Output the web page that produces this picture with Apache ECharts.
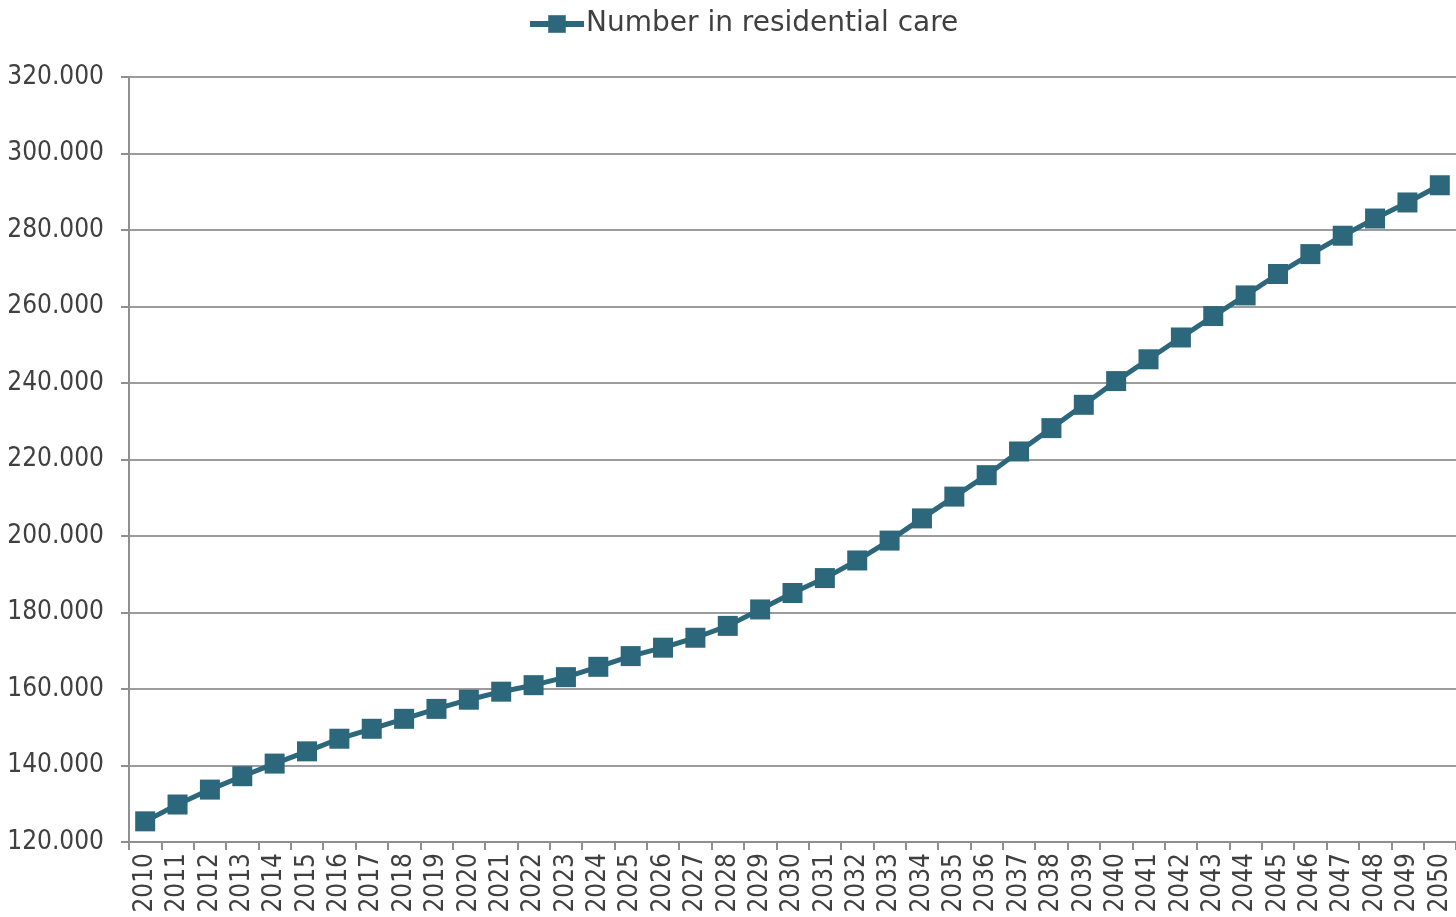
<!DOCTYPE html>
<html>
<head>
<meta charset="utf-8">
<title>Number in residential care</title>
<script src="https://cdn.jsdelivr.net/npm/echarts@6/dist/echarts.min.js"></script>
<style>
  html, body { margin: 0; padding: 0; background: #ffffff; }
  #chart { width: 1456px; height: 917px; }
</style>
</head>
<body>
<div id="chart"></div>
<script>
// Projected number of people in residential care, 2010-2050
const years = [
  '2010','2011','2012','2013','2014','2015','2016','2017','2018','2019',
  '2020','2021','2022','2023','2024','2025','2026','2027','2028','2029',
  '2030','2031','2032','2033','2034','2035','2036','2037','2038','2039',
  '2040','2041','2042','2043','2044','2045','2046','2047','2048','2049','2050'
];
const residentialCare = [
  125400, 129800, 133700, 137200, 140500, 143700, 147000, 149600, 152200, 154800,
  157200, 159300, 161000, 163100, 165800, 168600, 170800, 173400, 176500, 180800,
  185100, 189000, 193600, 198800, 204600, 210300, 215900, 222100, 228200, 234300,
  240500, 246200, 251900, 257500, 262900, 268500, 273700, 278500, 283000, 287200, 291700
];
const seriesName = 'Number in residential care';
const yMin = 120000, yMax = 320000, yStep = 20000;

const FONT = '"DejaVu Sans Condensed", "DejaVu Sans", sans-serif';
const LEGEND_FONT = '"DejaVu Sans", sans-serif';
const TEXT = '#404040';
const LINE = '#2D677C';

// thousands separated with a dot, e.g. 320.000
function fmt(v) {
  return String(v).replace(/\B(?=(\d{3})+(?!\d))/g, '.');
}

const chart = echarts.init(document.getElementById('chart'), null, { renderer: 'canvas' });
chart.setOption({
  animation: false,
  backgroundColor: '#ffffff',
  textStyle: { fontFamily: FONT },
  legend: {
    data: [seriesName],
    left: 522,
    top: 5,
    padding: 5,
    itemWidth: 54,
    itemHeight: 22,
    itemGap: 4,
    lineStyle: { width: 6, color: LINE },
    itemStyle: { color: LINE },
    textStyle: { fontFamily: LEGEND_FONT, fontSize: 28, color: TEXT, padding: [0, 0, 0, -3] }
  },
  grid: { left: 129, right: -5.5, top: 77, bottom: 75, containLabel: false },
  xAxis: {
    type: 'category',
    data: years,
    boundaryGap: true,
    axisLine: { show: true, lineStyle: { color: '#8f8f8f', width: 2 } },
    axisTick: { show: true, alignWithLabel: false, length: 8, lineStyle: { color: '#8f8f8f', width: 2 } },
    axisLabel: {
      interval: 0, rotate: 90, margin: 11,
      fontFamily: FONT, fontSize: 26, color: TEXT
    },
    splitLine: { show: false }
  },
  yAxis: {
    type: 'value',
    min: yMin, max: yMax, interval: yStep,
    axisLine: { show: true, lineStyle: { color: '#8f8f8f', width: 2 } },
    axisTick: { show: true, length: 8, lineStyle: { color: '#8f8f8f', width: 2 } },
    axisLabel: {
      margin: 25, fontFamily: FONT, fontSize: 26, color: TEXT,
      formatter: fmt
    },
    splitLine: { show: true, lineStyle: { color: '#9c9c9c', width: 2 } }
  },
  series: [{
    name: seriesName,
    type: 'line',
    data: residentialCare,
    symbol: 'rect',
    symbolSize: 20,
    showAllSymbol: true,
    lineStyle: { color: LINE, width: 5 },
    itemStyle: { color: LINE, borderWidth: 0 }
  }]
});
</script>
</body>
</html>
